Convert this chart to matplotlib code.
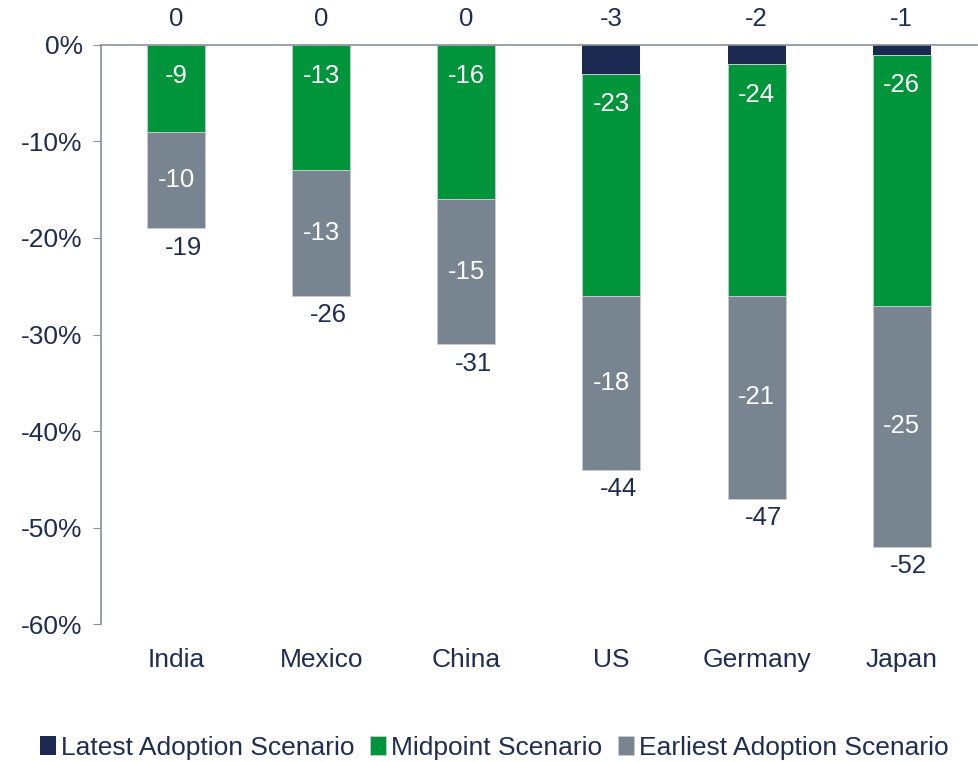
import numpy as np
import matplotlib.pyplot as plt

plt.rcParams['font.family'] = ['Liberation Sans', 'DejaVu Sans']

countries = ['India', 'Mexico', 'China', 'US', 'Germany', 'Japan']
latest = [0, 0, 0, -3, -2, -1]
midpoint = [-9, -13, -16, -23, -24, -26]
earliest = [-10, -13, -15, -18, -21, -25]
totals = [-19, -26, -31, -44, -47, -52]

navy = '#1b2951'
green = '#00953a'
grey = '#788591'
txt = '#1f2d52'

fig = plt.figure(figsize=(9.79, 7.62), dpi=100)
ax = fig.add_axes([0.103, 0.181, 0.895, 0.760])

x = np.arange(len(countries))
w = 0.4
lat = np.array(latest)
mid = np.array(midpoint)
ear = np.array(earliest)

ax.bar(x, lat, w, color=navy, label='Latest Adoption Scenario')
ax.bar(x, mid, w, bottom=lat, color=green, label='Midpoint Scenario',
       edgecolor='#c8ccd0', linewidth=0.6)
ax.bar(x, ear, w, bottom=lat + mid, color=grey, label='Earliest Adoption Scenario',
       edgecolor='#c8ccd0', linewidth=0.6)

fs = 18.5
for i in range(len(x)):
    ax.annotate(str(latest[i]), (x[i], 0), xytext=(0, 19), textcoords='offset points',
                ha='center', va='center', fontsize=fs, color=txt)
    ax.annotate(str(midpoint[i]), (x[i], lat[i]), xytext=(0, -22), textcoords='offset points',
                ha='center', va='center', fontsize=fs, color='white')
    ax.text(x[i], lat[i] + mid[i] + ear[i] / 2, str(earliest[i]),
            ha='center', va='center', fontsize=fs, color='white')
    ax.annotate(str(totals[i]), (x[i], totals[i]), xytext=(5, -14), textcoords='offset points',
                ha='center', va='center', fontsize=fs, color=txt)

ax.set_ylim(-60, 0)
ax.set_xlim(-0.52, 5.52)
ax.set_yticks(np.arange(-60, 1, 10))
ax.set_yticklabels([f'{v}%' for v in range(-60, 1, 10)])
ax.set_xticks(x)
ax.set_xticklabels(countries)
ax.tick_params(axis='y', labelsize=19, colors='#8a9099', labelcolor=txt, length=6, pad=7)
ax.tick_params(axis='x', labelsize=19, labelcolor=txt, length=0, pad=17)

for s in ['right', 'bottom']:
    ax.spines[s].set_visible(False)
for s in ['left', 'top']:
    ax.spines[s].set_color('#8a9099')
    ax.spines[s].set_linewidth(1.2)

fig.legend(loc='lower center', bbox_to_anchor=(0.505, -0.028), ncol=3, frameon=False,
           fontsize=19, labelcolor=txt, handlelength=0.6, handleheight=0.7,
           handletextpad=0.2, columnspacing=0.6)

plt.savefig('out.png', dpi=100)
